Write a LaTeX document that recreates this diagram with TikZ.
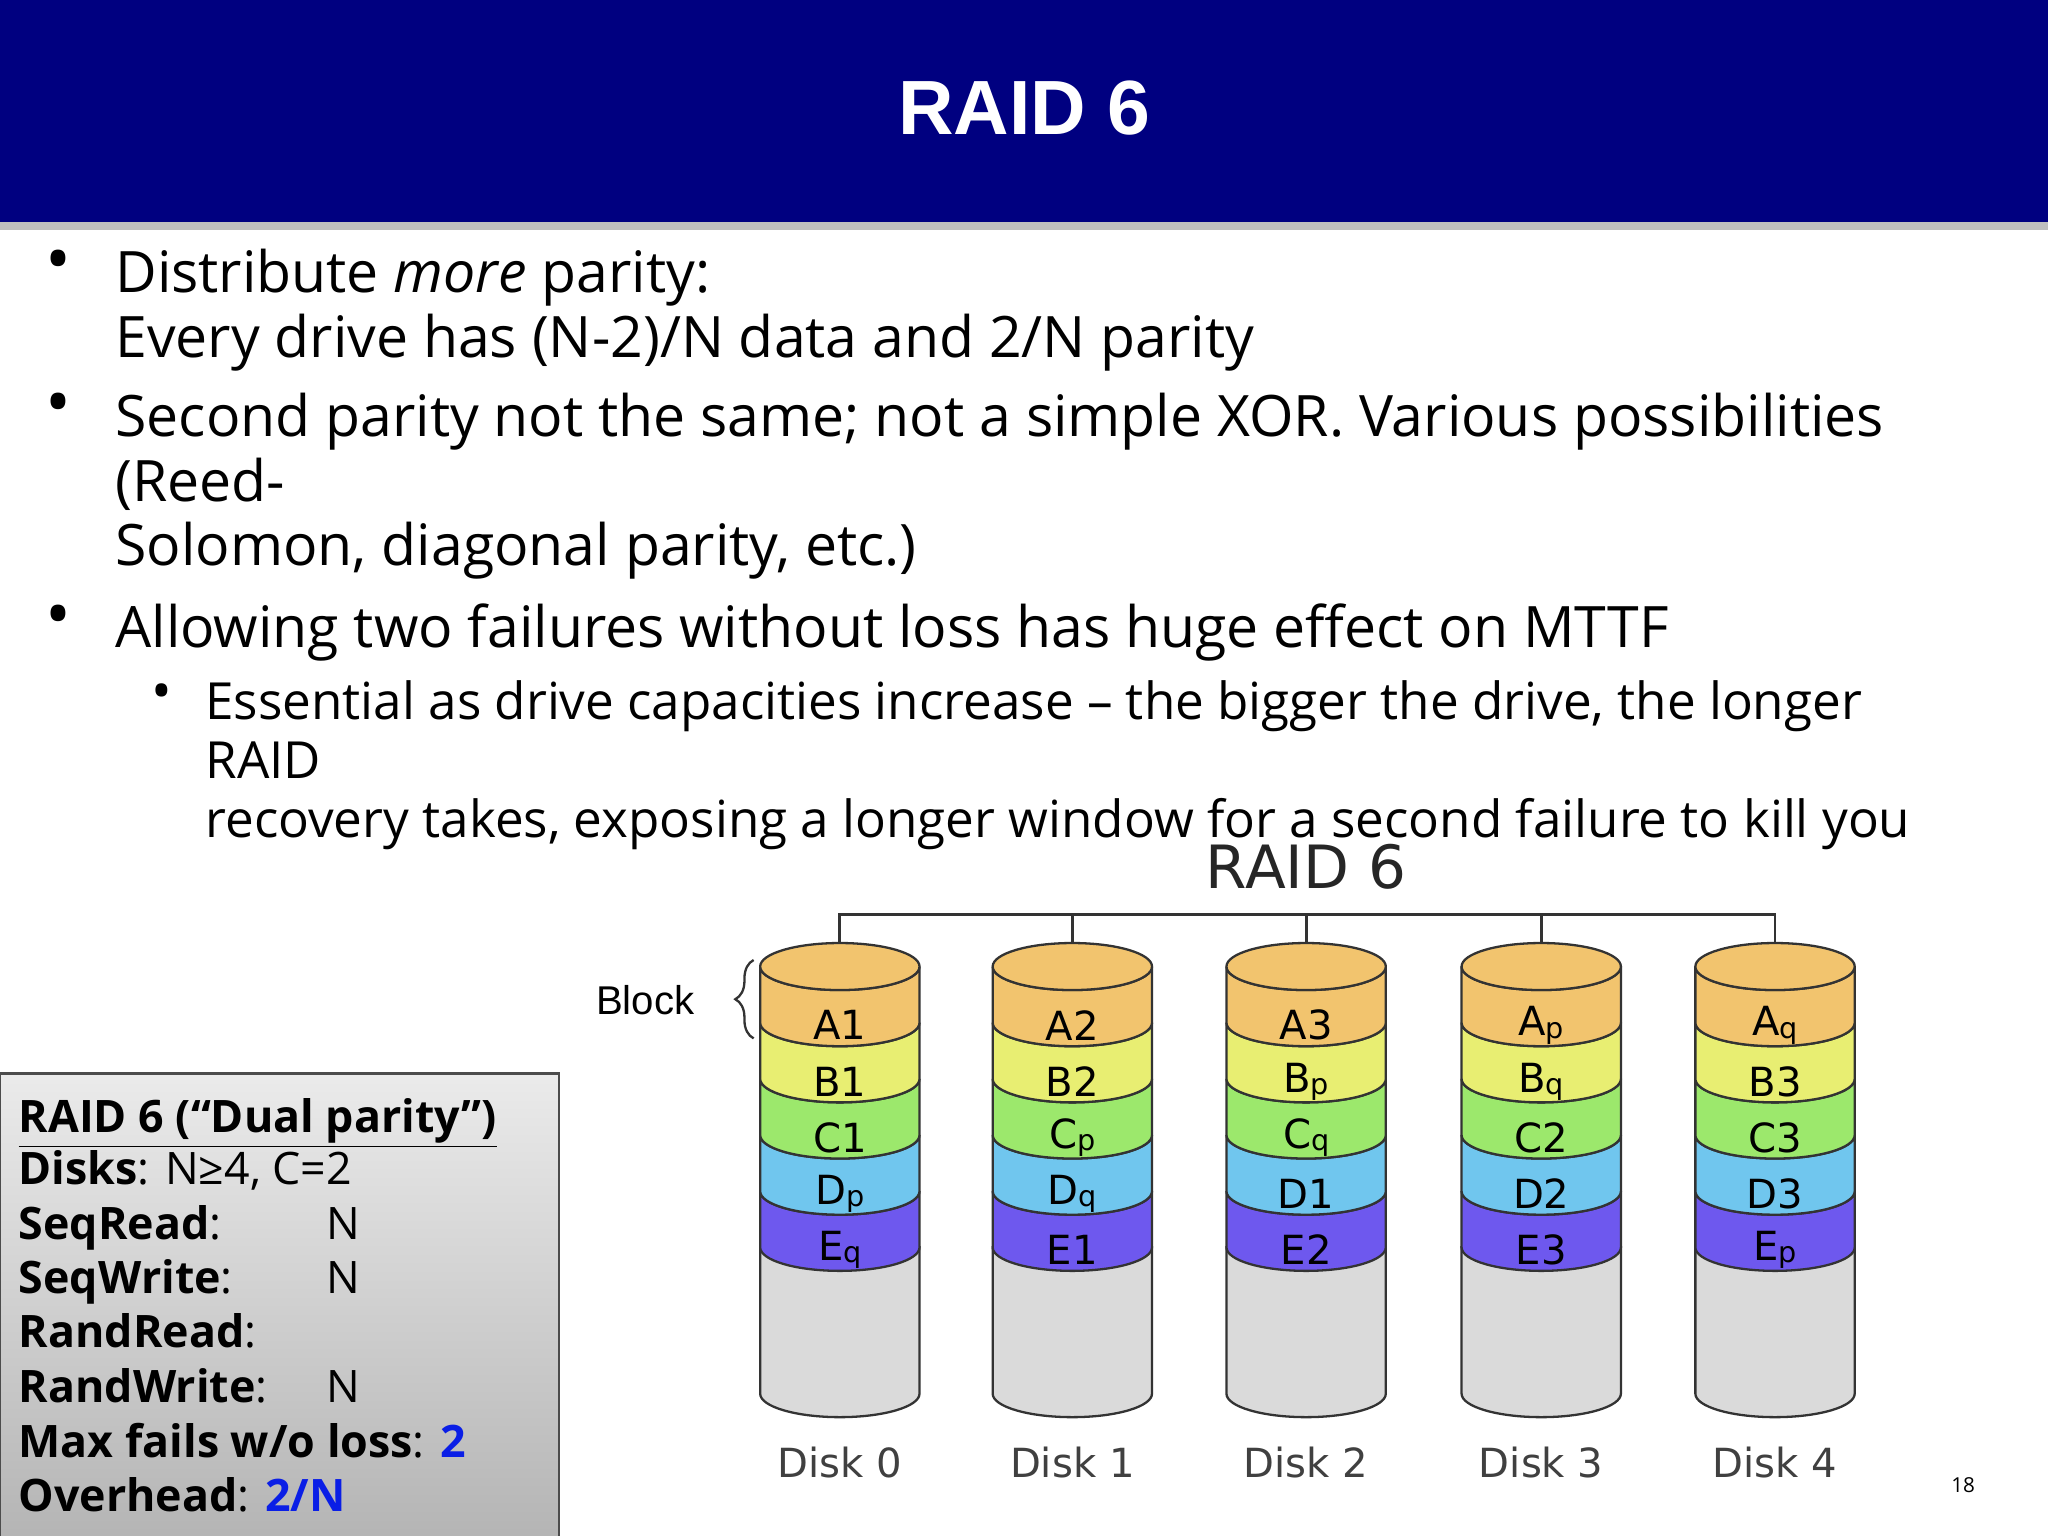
\documentclass[tikz,border=0pt]{standalone}
\usepackage{fontspec}
\setmainfont{Open Sans}
\newfontfamily\arialf{Liberation Sans}
\newfontfamily\dejaf{DejaVu Sans}
\usetikzlibrary{decorations.pathreplacing}
\definecolor{navy}{HTML}{000080}
\definecolor{cA}{HTML}{F2C46E}
\definecolor{cB}{HTML}{E8EE72}
\definecolor{cC}{HTML}{9CE86C}
\definecolor{cD}{HTML}{70C6EE}
\definecolor{cE}{HTML}{6E58EE}
\definecolor{cG}{HTML}{DADADA}
\definecolor{bluev}{HTML}{0A1EE6}
\tikzset{
 mainline/.style={anchor=base west,inner sep=0,font=\fontsize{24.9}{28}\selectfont},
 subline/.style={anchor=base west,inner sep=0,font=\fontsize{22.3}{24}\selectfont},
 boxline/.style={anchor=base west,inner sep=0,font=\fontsize{19.5}{23}\selectfont},
 dlab/.style={font=\dejaf\fontsize{17.5}{20}\selectfont,inner sep=0},
 disklab/.style={font=\dejaf\fontsize{17.5}{20}\selectfont,text=black!75,inner sep=0},
 bul/.style={font=\fontsize{30}{30}\selectfont,inner sep=0},
}
\newcommand{\band}[5]{% x, ytop, ybot, color, label
 \fill[#4,draw=black!80,line width=1pt] (#1-61,#2) -- (#1-61,#3) arc[start angle=180,end angle=0,x radius=61,y radius=18] -- (#1+61,#2) arc[start angle=0,end angle=180,x radius=61,y radius=18] -- cycle;
 \node[dlab] at (#1,#2+45) {#5};
}
\newcommand{\disk}[7]{% x, labels A..E, name
 \fill[cG,draw=black!80,line width=1pt] (#1-61,955) -- (#1-61,1067) arc[start angle=180,end angle=0,x radius=61,y radius=18] -- (#1+61,955) -- cycle;
 \band{#1}{912}{955}{cE}{#6}
 \band{#1}{869}{912}{cD}{#5}
 \band{#1}{826}{869}{cC}{#4}
 \band{#1}{783}{826}{cB}{#3}
 \band{#1}{740}{783}{cA}{#2}
 \fill[cA,draw=black!80,line width=1pt] (#1,740) ellipse[x radius=61,y radius=18];
 \node[disklab] at (#1,1120) {#7};
}
\newcommand{\lowsub}[1]{\raisebox{-0.1ex}{\fontsize{12.5}{14}\selectfont #1}}
\begin{document}
\begin{tikzpicture}[x=0.02cm,y=-0.02cm]
\useasboundingbox (0,0) rectangle (1568,1176);
\fill[white] (0,0) rectangle (1568,1176);
\fill[black!25] (0,170) rectangle (1568,176);
\fill[navy] (0,0) rectangle (1568,170);
\node[text=white,font=\arialf\bfseries\fontsize{33.5}{38}\selectfont] (title) at (784,83) {RAID 6};
% bullets
\node[bul] (b1) at (45,204) {•};
\node[mainline] (l1) at (88,224) {Distribute \textit{more} parity:};
\node[mainline] (l2) at (88,274) {Every drive has (N-2)/N data and 2/N parity};
\node[bul] (b2) at (45,314) {•};
\node[mainline] (l3) at (88,334) {Second parity not the same; not a simple XOR. Various possibilities};
\node[mainline] (l4) at (88,384) {(Reed-};
\node[mainline] (l5) at (88,433) {Solomon, diagonal parity, etc.)};
\node[bul] (b3) at (45,476) {•};
\node[mainline] (l6) at (88,496) {Allowing two failures without loss has huge effect on MTTF};
\node[bul,font=\fontsize{24}{24}\selectfont] (b4) at (124,534) {•};
\node[subline] (l7) at (157,551) {Essential as drive capacities increase – the bigger the drive, the longer};
\node[subline] (l8) at (157,596) {RAID};
\node[subline] (l9) at (157,641) {recovery takes, exposing a longer window for a second failure to kill you};
% diagram
\node[font=\dejaf\fontsize{26}{30}\selectfont,text=black!85] (rt) at (1000,664) {RAID 6};
\draw[black!80,line width=1.2pt] (643,740) |- (1359,700) -- (1359,740);
\foreach \x in {821,1000,1180} \draw[black!80,line width=1.2pt] (\x,700) -- (\x,740);
\disk{643}{A1}{B1}{C1}{D\lowsub{p}}{E\lowsub{q}}{Disk 0}
\disk{821}{A2}{B2}{C\lowsub{p}}{D\lowsub{q}}{E1}{Disk 1}
\disk{1000}{A3}{B\lowsub{p}}{C\lowsub{q}}{D1}{E2}{Disk 2}
\disk{1180}{A\lowsub{p}}{B\lowsub{q}}{C2}{D2}{E3}{Disk 3}
\disk{1359}{A\lowsub{q}}{B3}{C3}{D3}{E\lowsub{p}}{Disk 4}
\draw[black!80,line width=1pt,decorate,decoration={brace,amplitude=8pt}] (577,795) -- (577,735);
\node[font=\arialf\fontsize{17.5}{20}\selectfont,anchor=east,inner sep=0] (blk) at (532,766) {Block};
% left box
\shade[top color=white!92!black,bottom color=white!70!black,draw=black!70,line width=1pt] (0,822) rectangle (428,1190);
\node[boxline] (t1) at (14,867) {\textbf{\underline{RAID 6 (“Dual parity”)}}};
\node[boxline] (t2) at (14,907) {\textbf{Disks}: N≥4, C=2};
\node[boxline] (t3) at (14,949) {\textbf{SeqRead}:};
\node[boxline] (t3v) at (250,949) {N};
\node[boxline] (t4) at (14,990) {\textbf{SeqWrite}:};
\node[boxline] (t4v) at (250,990) {N};
\node[boxline] (t5) at (14,1032) {\textbf{RandRead}:};
\node[boxline] (t6) at (14,1074) {\textbf{RandWrite}:};
\node[boxline] (t6v) at (250,1074) {N};
\node[boxline] (t7) at (14,1116) {\textbf{Max fails w/o loss}: \textcolor{bluev}{\textbf{2}}};
\node[boxline] (t8) at (14,1157) {\textbf{Overhead}: \textcolor{bluev}{\textbf{2/N}}};
\node[font=\fontsize{9}{10}\selectfont] (pg) at (1503,1137) {18};
\end{tikzpicture}
\end{document}
